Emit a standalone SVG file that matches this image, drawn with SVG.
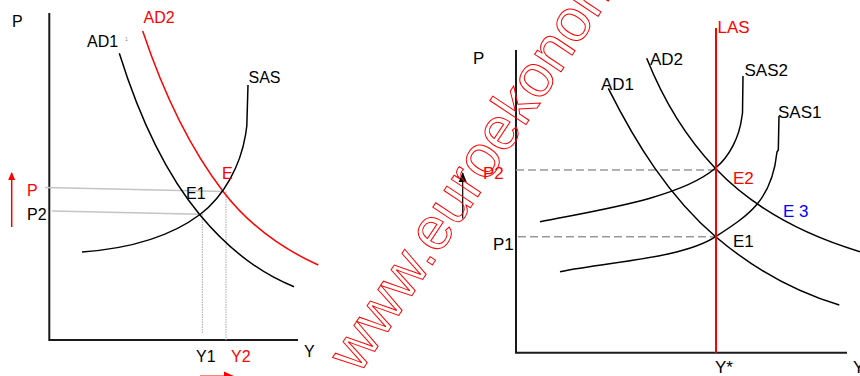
<svg xmlns="http://www.w3.org/2000/svg" width="860" height="376" viewBox="0 0 860 376">
<style>
text{font-family:"Liberation Sans",Arial,sans-serif;}
.l{font-size:16px;fill:#000;}
.r{font-size:17px;fill:#000;}
.red{fill:#ff0000;}
.blue{fill:#0000ff;}
.axis{stroke:#1a1a1a;stroke-width:2;fill:none;}
.crv{stroke:#000;stroke-width:1.5;fill:none;}
.crvr{stroke:#ff0000;stroke-width:1.5;fill:none;}
.guide{stroke:#c4c4c4;stroke-width:1.5;fill:none;}
.dot{stroke:#a8a8a8;stroke-width:1;stroke-dasharray:1.5,1;fill:none;}
.dash{stroke:#999;stroke-width:1.5;stroke-dasharray:8,4;fill:none;}
.wm{font-size:60px;fill:none;stroke:#ff0000;stroke-width:1;}
</style>
<defs>
<marker id="ahr" markerWidth="8" markerHeight="10" refX="7" refY="3.5" orient="auto" markerUnits="userSpaceOnUse" viewBox="0 0 8 7">
<path d="M0,0 L8,3.5 L0,7 Z" fill="#ff0000"/>
</marker>
<marker id="ahk" markerWidth="10" markerHeight="10" refX="9" refY="4" orient="auto" markerUnits="userSpaceOnUse" viewBox="0 0 10 8">
<path d="M0,0 L10,4 L0,8 Z" fill="#000"/>
</marker>
</defs>
<rect width="860" height="376" fill="#fff"/>

<!-- LEFT CHART -->
<g id="left-axes">
<path class="axis" d="M49.3,13 L49.3,340 L298,340"/>
<text class="l" x="12" y="27">P</text>
<text class="l" x="304" y="357">Y</text>
</g>
<g id="left-guides">
<path class="guide" d="M45,187.5 L224,191.5"/>
<path class="guide" d="M52,211 L200,214.3"/>
<path class="dot" d="M202.3,214 L202.3,333"/>
<path class="dot" d="M226,191.5 L226,340"/>
</g>
<g id="left-AD1">
<path class="crv" d="M119.3,53.3 C137.2,110.6 161.6,168.9 200,215 C225.2,245.3 257.4,272.1 294,286.7"/>
<text class="l" x="87" y="47">AD1</text>
<text x="125" y="41" style="font-size:5px;fill:#888">1</text>
</g>
<g id="left-AD2">
<path class="crvr" d="M142.7,31 C161.7,87.9 186.7,144.1 223.3,191.7 C247.7,223.4 281.8,248.6 318.3,265"/>
<text class="l red" x="143.5" y="23">AD2</text>
</g>
<g id="left-SAS">
<path class="crv" d="M82,252 C123.3,249 167,239.3 200,214.5 C224.4,196.2 240.5,165.1 245.5,135 L246.8,126 L248,85"/>
<text class="l" x="248.5" y="82.5">SAS</text>
</g>
<g id="left-points">
<text class="l red" x="222" y="179">E</text>
<text class="l" x="186" y="198.5">E1</text>
<text class="l red" x="27" y="196">P</text>
<text class="l" x="27" y="220">P2</text>
<text class="l" x="196" y="362">Y1</text>
<text class="l red" x="231" y="362">Y2</text>
</g>
<g id="left-arrows">
<path d="M11.7,227 L11.7,173" stroke="#ff0000" stroke-width="1.5" marker-end="url(#ahr)"/>
<path d="M200,377 L226,377" stroke="#ff0000" stroke-width="3"/>
<polygon points="224,371.5 236,377 224,382.5" fill="#ff0000"/>
</g>

<!-- RIGHT CHART -->
<g id="right-axes">
<path class="axis" d="M516,50 L516,352.7 L847,352.7"/>
<text class="r" x="473" y="63.5">P</text>
<text class="r" x="853" y="373">Y</text>
<text class="r" x="715" y="373">Y*</text>
</g>
<g id="right-guides">
<path class="dash" d="M516,170 L716,170"/>
<path class="dash" d="M518,236.7 L716,236.7"/>
<text class="r red" x="483" y="178.5">P2</text>
<text class="r" x="493" y="250">P1</text>
</g>
<g id="right-AD1">
<path class="crv" d="M608.3,88.3 C635.6,142.8 669.2,197.2 715.7,236.7 C751.5,267.2 794.3,291.5 839.3,305"/>
<text class="r" x="601" y="90">AD1</text>
</g>
<g id="right-AD2">
<path class="crv" d="M646.7,58.3 C662.7,98.4 685.5,137 715.3,168.3 C753.7,208.6 806.6,235.7 860,251.7"/>
<text class="r" x="650" y="65">AD2</text>
</g>
<g id="right-SAS2">
<path class="crv" d="M540,221.7 C599.8,209.7 680.2,198.1 715.3,168.3 C729.8,156 739.3,136.8 741.7,118 L742.5,113 L743,76"/>
<text class="r" x="744.5" y="76">SAS2</text>
</g>
<g id="right-SAS1">
<path class="crv" d="M560,271.7 C612,261.3 682.2,258.5 715.7,236.7 C749.2,214.9 772,200 777,152 L778.3,150 L779,116"/>
<text class="r" x="778" y="118">SAS1</text>
</g>
<g id="right-LAS">
<path d="M716,28 L716,352.7" stroke="#ff0000" stroke-width="2"/>
<text class="r red" x="717.5" y="33">LAS</text>
</g>
<g id="right-points">
<text class="r red" x="733" y="184">E2</text>
<text class="r blue" x="783" y="216.5">E 3</text>
<text class="r" x="733" y="246.5">E1</text>
</g>
<g id="right-arrow">
<path d="M462.7,218.5 L462.7,173" stroke="#000" stroke-width="1.2" marker-end="url(#ahk)"/>
</g>

<!-- WATERMARK -->
<text class="wm" transform="translate(359,375) rotate(-56.3)">www.euroekonom</text>
</svg>
